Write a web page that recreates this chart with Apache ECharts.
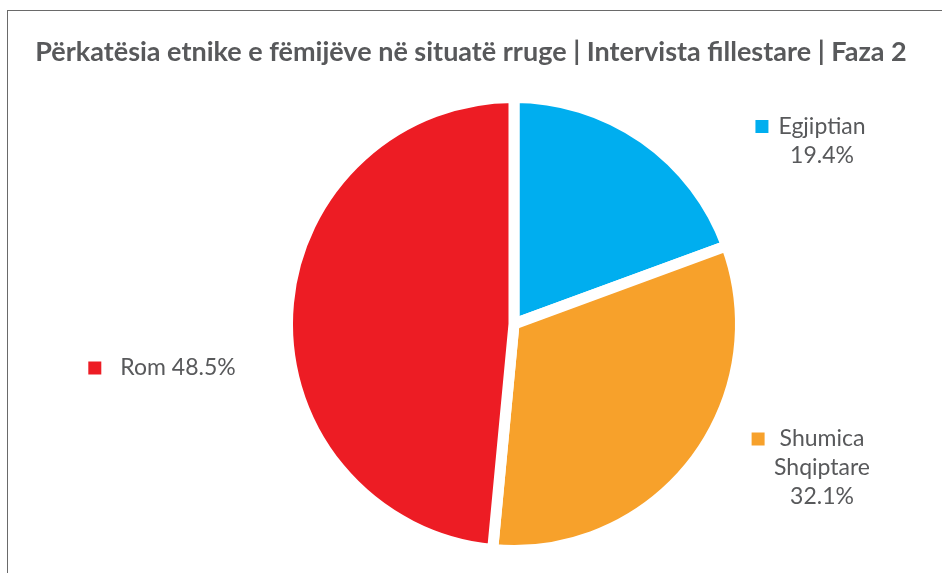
<!DOCTYPE html>
<html>
<head>
<meta charset="utf-8">
<script src="https://cdn.jsdelivr.net/npm/echarts@6/dist/echarts.min.js"></script>
<style>
  html, body { margin: 0; padding: 0; background: #fff; }
  #frame { position: absolute; left: 7px; top: 10px; width: 1000px; height: 1000px;
           border-left: 1px solid #6a6a6a; border-top: 1px solid #6a6a6a; pointer-events: none; }
  #chart { position: absolute; left: 0; top: 0; width: 942px; height: 573px; }
</style>
</head>
<body>
<div id="frame"></div>
<div id="chart"></div>
<script>
// data
var titleText = 'Përkatësia etnike e fëmijëve në situatë rruge | Intervista fillestare | Faza 2';
var categories = ['Egjiptian', 'Shumica\nShqiptare', 'Rom'];
var shares = [19.4, 32.1, 48.5];
var colors = ['#00aeef', '#f7a12b', '#ed1c24'];

var textColor = '#58595b';
var chart = echarts.init(document.getElementById('chart'));

// label anchor (center of the text block) and marker gap for each slice
var labelAnchors = [[822, 141], [822, 468], [178, 368]];
var markerGaps = [10, 15, 19];

var seriesData = categories.map(function (name, i) {
  return {
    name: name,
    value: shares[i],
    itemStyle: {color: colors[i]},
    label: {
      rich: {
        m: {width: 13, height: 13, backgroundColor: colors[i], verticalAlign: 'middle'},
        s: {width: 13, height: 13, verticalAlign: 'middle'},
        g: {width: markerGaps[i]}
      }
    }
  };
});

var option = {
  animation: false,
  title: {
    text: titleText,
    left: 'center',
    top: 34,
    textStyle: {
      fontFamily: 'Lato',
      fontSize: 27,
      fontWeight: 'bold',
      color: textColor
    }
  },
  series: [
    {
      type: 'pie',
      center: [514, 324],
      radius: 226.5,
      startAngle: 90,
      clockwise: true,
      percentPrecision: 1,
      emphasis: {disabled: true},
      itemStyle: {borderColor: '#fff', borderWidth: 11},
      labelLine: {show: false},
      label: {
        show: true,
        position: 'outside',
        fontFamily: 'Lato',
        fontSize: 23,
        lineHeight: 29,
        color: textColor,
        align: 'center',
        formatter: function (p) {
          var lines = p.name.split('\n');
          if (p.dataIndex === 2) {
            return '{m|}{g|}' + p.name + ' ' + p.percent + '%{g|}{s|}';
          }
          var out = '{m|}{g|}' + lines[0] + '{g|}{s|}';
          for (var k = 1; k < lines.length; k++) out += '\n' + lines[k];
          return out + '\n' + p.percent + '%';
        }
      },
      labelLayout: function (params) {
        var a = labelAnchors[params.dataIndex];
        return {x: a[0], y: a[1], align: 'center', verticalAlign: 'middle'};
      },
      data: seriesData
    }
  ]
};

chart.setOption(option);
</script>
</body>
</html>
